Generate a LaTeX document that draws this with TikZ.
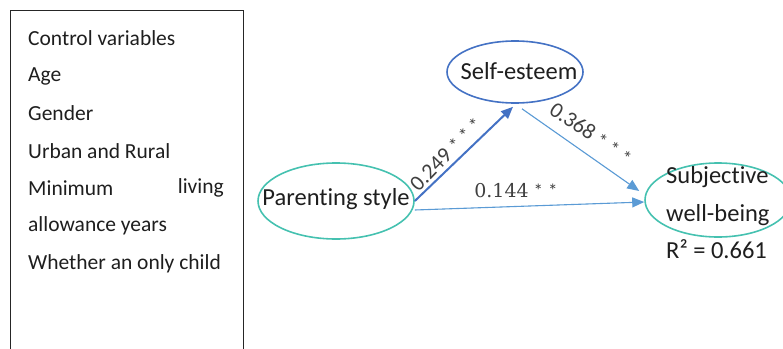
\documentclass[tikz,border=0pt]{standalone}
\usepackage{fontspec}
\setmainfont{Carlito}[Ligatures=NoCommon]
\newfontfamily\numfont{DejaVu Serif}
\newfontfamily\starfont{Carlito}
\usetikzlibrary{shapes.geometric,arrows.meta}
\definecolor{tealc}{HTML}{45C1B0}
\definecolor{bluec}{HTML}{4472C4}
\definecolor{lblue}{HTML}{5B9BD5}
\definecolor{txt}{HTML}{1E1E1E}
\newcommand{\twostars}{{\starfont\fontsize{19}{19}\selectfont\hspace{5pt}*\hspace{5pt}*}}
\newcommand{\threestars}{{\starfont\fontsize{19}{19}\selectfont\hspace{5pt}*\hspace{5pt}*\hspace{5pt}*}}
\begin{document}
\begin{tikzpicture}[x=1pt,y=-1pt,
  boxtext/.style={anchor=west,inner sep=0,font=\fontsize{21.5}{24}\selectfont,text=txt},
  latent/.style={ellipse,draw,line width=1.6pt,inner sep=0},
  vartext/.style={font=\fontsize{24.5}{38}\selectfont,text=txt,inner sep=0},
  coef/.style={inner sep=0,font=\fontsize{22}{24}\selectfont,text=txt!85},
  arr/.style={line width=1.1pt,draw=lblue,-{Triangle[length=12pt,width=10pt]},fill=lblue},
  arrthick/.style={line width=2pt,draw=bluec,-{Triangle[length=12pt,width=10pt]},fill=bluec}]
\useasboundingbox (0,0) rectangle (783,348);
\begin{scope}
\clip (0,0) rectangle (783,348);
\draw[line width=1pt,draw=black!85] (10,10) rectangle (243,360);
\node[boxtext] (c1) at (28,38) {Control variables};
\node[boxtext] (c2) at (28,76) {Age};
\node[boxtext] (c3) at (28,113) {Gender};
\node[boxtext] (c4) at (28,151) {Urban and Rural};
\node[boxtext] (c5) at (28,188) {Minimum};
\node[boxtext,anchor=east] (c5b) at (224,188) {living};
\node[boxtext] (c6) at (28,226) {allowance years};
\node[boxtext] (c7) at (28,264) {Whether an only child};

\node[latent,draw=tealc,minimum width=156pt,minimum height=76pt] (p) at (336,201) {};
\node[vartext] (pt) at (336,199) {Parenting style};
\node[latent,draw=bluec,minimum width=136pt,minimum height=62pt] (s) at (515,72) {};
\node[vartext] (st) at (519,71) {Self-esteem};
\node[latent,draw=tealc,minimum width=146pt,minimum height=74pt] (w) at (718,200) {};
\node[vartext,align=left,anchor=west] (wt) at (666,196) {Subjective\\well-being};
\node[vartext,anchor=west] (r2) at (666,249) {R² = 0.661};

\draw[arrthick] (p.east) -- ([xshift=-2pt,yshift=-3pt]s.south);
\draw[arr] ([xshift=7pt,yshift=-5pt]s.south) -- ([xshift=-5pt,yshift=9pt]w.west);
\draw[arr] ([yshift=-9pt]p.east) -- ([yshift=-2pt]w.west);

\node[coef,rotate=46] (l1) at (446,154) {0.249\threestars};
\node[coef,rotate=-34] (l2) at (591,133) {0.368\threestars};
\node[coef,font=\numfont\fontsize{19}{22}\selectfont] (l3) at (516,191) {0.144\twostars};
\end{scope}
\end{tikzpicture}
\end{document}
